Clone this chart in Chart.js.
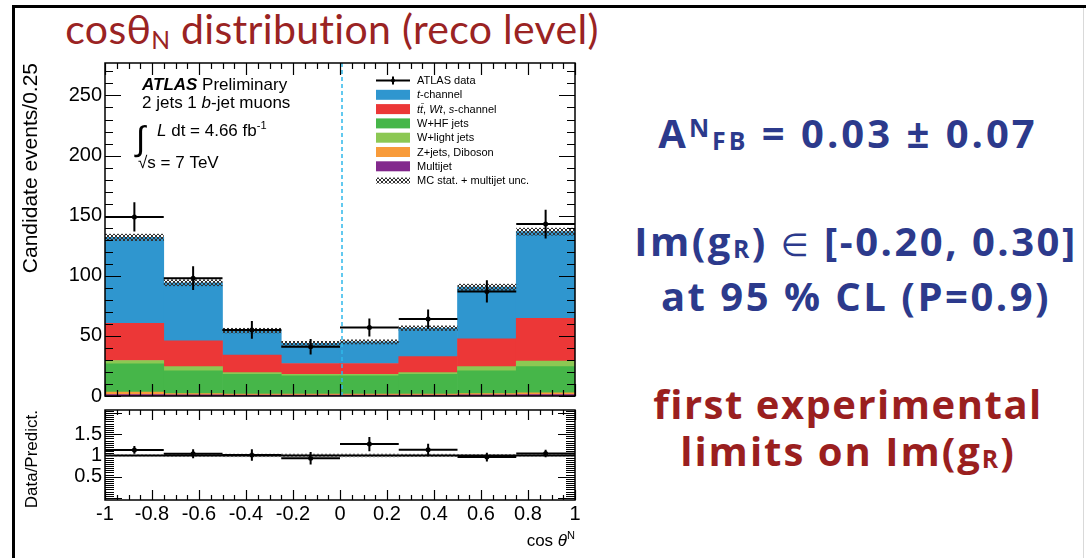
<!DOCTYPE html>
<html>
<head>
<meta charset="utf-8">
<script src="https://cdn.jsdelivr.net/npm/chart.js@4.4.1/dist/chart.umd.min.js"></script>
<style>
  html, body { margin: 0; padding: 0; background: #fff; }
  body { width: 1086px; height: 558px; position: relative; overflow: hidden; }
  canvas { position: absolute; left: 0; top: 0; }
  .frame { position: absolute; left: 12px; top: 5px; right: 0; bottom: 0; border-left: 3px solid #000; border-top: 3px solid #000; }
  .edge { position: absolute; left: 1083px; top: 8px; bottom: 0; width: 1px; background: #d9d9d9; }
  .title { position: absolute; left: 32px; top: 8px; width: 600px; text-align: center; font-family: Lato, sans-serif; font-size: 41px; line-height: 1; letter-spacing: 0.3px; font-variant-ligatures: none; color: #9a2323; white-space: nowrap; }
  .title sub { font-size: 0.6em; line-height: 0; vertical-align: -0.2em; }
  .note { position: absolute; width: 470px; text-align: center; font-family: "Open Sans", sans-serif; font-weight: 700; font-size: 40px; line-height: 1; color: #2c3a8c; white-space: nowrap; }
  .note.red { color: #9a1f1f; }
  .note sup { font-size: 0.62em; line-height: 0; vertical-align: 0.45em; }
  .note sub { font-size: 0.62em; line-height: 0; vertical-align: -0.08em; }
  .in { font-weight: 400; font-family: "DejaVu Sans", sans-serif; font-size: 0.8em; }
</style>
</head>
<body>
<div class="frame"></div>
<div class="edge"></div>
<div class="title">cosθ<sub>N</sub> distribution (reco level)</div>
<div class="note" style="top:113px; left:613px; letter-spacing:3px">A<sup>N</sup><sub>FB</sub> = 0.03 ± 0.07</div>
<div class="note" style="top:221px; left:621px; letter-spacing:2.5px">Im(g<sub>R</sub>) <span class="in">∈</span> [-0.20, 0.30]</div>
<div class="note" style="top:276px; left:621px; letter-spacing:2.5px">at 95 % CL (P=0.9)</div>
<div class="note red" style="top:384px; left:613px; letter-spacing:1.5px">first experimental</div>
<div class="note red" style="top:431px; left:613px; letter-spacing:2px">limits on Im(g<sub>R</sub>)</div>
<canvas id="main" width="1086" height="558"></canvas>
<canvas id="ratio" width="1086" height="558"></canvas>
<script>
// cos theta_N binning
const binEdges = [-1, -0.75, -0.5, -0.25, 0, 0.25, 0.5, 0.75, 1];
const binCenters = [-0.875, -0.625, -0.375, -0.125, 0.125, 0.375, 0.625, 0.875];

// observed events per bin
const dataCounts = [149, 98, 55, 41, 57, 64, 87, 143];

// predicted events per process (stacked bottom to top)
const multijet = [1.2, 1.0, 0.8, 0.8, 0.8, 0.8, 1.0, 1.2];
const zjetsDiboson = [2.0, 1.0, 0.8, 0.7, 0.7, 0.8, 1.0, 1.5];
const wHF = [23.5, 19.0, 16.4, 15.2, 15.2, 16.4, 19.0, 21.7];
const wLight = [2.8, 3.4, 1.4, 1.3, 1.3, 1.4, 3.4, 4.6];
const ttbarWtS = [31.0, 21.4, 14.6, 9.0, 9.0, 13.4, 23.1, 35.7];
const tChannel = [71.4, 48.4, 20.4, 16.9, 18.0, 23.6, 43.0, 72.0];
// MC stat. + multijet uncertainty
const mcUnc = [3.0, 2.8, 2.2, 1.9, 2.0, 2.2, 2.8, 3.2];

// tick labels
const mainYTicks = [0, 50, 100, 150, 200, 250];
const ratioYTicks = [0.5, 1, 1.5];
const xTickLabels = [-1, -0.8, -0.6, -0.4, -0.2, 0, 0.2, 0.4, 0.6, 0.8, 1];

const processes = [
  { label: 'Multijet', values: multijet, color: '#83298d' },
  { label: 'Z+jets, Diboson', values: zjetsDiboson, color: '#f89b3a' },
  { label: 'W+HF jets', values: wHF, color: '#46b649' },
  { label: 'W+light jets', values: wLight, color: '#8cc853' },
  { label: 'tt, Wt, s-channel', values: ttbarWtS, color: '#ec3737' },
  { label: 't-channel', values: tChannel, color: '#2f96cf' }
];

const mcTotal = binCenters.map((_, i) => processes.reduce((s, p) => s + p.values[i], 0));
const ratio = dataCounts.map((n, i) => n / mcTotal[i]);
const ratioErr = dataCounts.map((n, i) => Math.sqrt(n) / mcTotal[i]);

const FONT = '"Liberation Sans", Arial, Helvetica, sans-serif';

function hatch(ctx, color) {
  const c = document.createElement('canvas');
  c.width = 4; c.height = 4;
  const g = c.getContext('2d');
  g.strokeStyle = color;
  g.lineWidth = 1;
  g.beginPath();
  g.moveTo(0, 4); g.lineTo(4, 0);
  g.moveTo(0, 0); g.lineTo(4, 4);
  g.stroke();
  return ctx.createPattern(c, 'repeat');
}

function steps(min, max, step) {
  const out = [];
  for (let i = 0; ; i++) {
    const v = min + i * step;
    if (v > max + 1e-9) break;
    out.push(v);
  }
  return out;
}

const fmt = v => String(Math.round(v * 10) / 10);

// ROOT style frame with inward ticks on all four sides
function rootFrame(chart, s) {
  const { ctx, chartArea: a, scales: { x, y } } = chart;
  ctx.save();
  ctx.strokeStyle = '#000';
  ctx.lineWidth = 1.2;
  ctx.beginPath();
  steps(-1, 1, s.xMinor).forEach(v => {
    const px = Math.round(x.getPixelForValue(v)) + 0.5;
    const k = (v + 1) / s.xMajor;
    const len = Math.abs(k - Math.round(k)) < 1e-6 ? s.xMajorLen : s.xMinorLen;
    ctx.moveTo(px, a.bottom); ctx.lineTo(px, a.bottom - len);
    ctx.moveTo(px, a.top); ctx.lineTo(px, a.top + len);
  });
  steps(s.yStart, y.max, s.yMinor).forEach(v => {
    if (v < y.min) return;
    const py = Math.round(y.getPixelForValue(v)) + 0.5;
    const k = v / s.yMajor;
    const len = Math.abs(k - Math.round(k)) < 1e-6 ? s.yMajorLen : s.yMinorLen;
    ctx.moveTo(a.left, py); ctx.lineTo(a.left + len, py);
    ctx.moveTo(a.right, py); ctx.lineTo(a.right - len, py);
  });
  ctx.stroke();
  ctx.lineWidth = 1.5;
  ctx.strokeRect(a.left, a.top, a.width, a.height);
  ctx.restore();
}

function errorBars(chart, vals, errs, width) {
  const { ctx, scales: { x, y } } = chart;
  ctx.save();
  ctx.strokeStyle = '#000';
  ctx.lineWidth = width;
  ctx.beginPath();
  vals.forEach((v, i) => {
    const py = y.getPixelForValue(v);
    ctx.moveTo(x.getPixelForValue(binEdges[i]), py);
    ctx.lineTo(x.getPixelForValue(binEdges[i + 1]), py);
    const xc = x.getPixelForValue(binCenters[i]);
    ctx.moveTo(xc, y.getPixelForValue(v + errs[i]));
    ctx.lineTo(xc, y.getPixelForValue(v - errs[i]));
  });
  ctx.stroke();
  ctx.restore();
}

// text made of plain / italic pieces
function richText(ctx, x, y, parts, size) {
  parts.forEach(p => {
    const sz = p.sup ? size * 0.65 : size;
    ctx.font = (p.bold ? 'bold ' : '') + (p.it ? 'italic ' : '') + sz + 'px ' + FONT;
    ctx.fillText(p.t, x, p.sup ? y - size * 0.4 : y);
    x += ctx.measureText(p.t).width;
  });
  return x;
}

const legendRows = [
  { kind: 'data', parts: [{ t: 'ATLAS data' }] },
  { color: '#2f96cf', parts: [{ t: 't', it: true }, { t: '-channel' }] },
  { color: '#ec3737', parts: [{ t: 'tt\u0304', it: true }, { t: ', ' }, { t: 'Wt', it: true }, { t: ', ' }, { t: 's', it: true }, { t: '-channel' }] },
  { color: '#46b649', parts: [{ t: 'W+HF jets' }] },
  { color: '#8cc853', parts: [{ t: 'W+light jets' }] },
  { color: '#f89b3a', parts: [{ t: 'Z+jets, Diboson' }] },
  { color: '#83298d', parts: [{ t: 'Multijet' }] },
  { kind: 'band', parts: [{ t: 'MC stat. + multijet unc.' }] }
];

const mainDecor = {
  id: 'mainDecor',
  afterDatasetsDraw(chart) {
    const { ctx, chartArea: a, scales: { x, y } } = chart;
    ctx.save();
    // uncertainty band on the total prediction
    ctx.fillStyle = hatch(ctx, '#333');
    mcTotal.forEach((t, i) => {
      const x0 = x.getPixelForValue(binEdges[i]);
      const x1 = x.getPixelForValue(binEdges[i + 1]);
      const y0 = y.getPixelForValue(t + mcUnc[i]);
      const y1 = y.getPixelForValue(t - mcUnc[i]);
      ctx.fillRect(x0, y0, x1 - x0, y1 - y0);
    });
    // dashed marker at cos = 0
    ctx.strokeStyle = '#2fb8ea';
    ctx.lineWidth = 1.5;
    ctx.setLineDash([4, 3]);
    ctx.beginPath();
    const x0 = x.getPixelForValue(0) + 2;
    ctx.moveTo(x0, a.top);
    ctx.lineTo(x0, a.bottom);
    ctx.stroke();
    ctx.restore();
    errorBars(chart, dataCounts, dataCounts.map(Math.sqrt), 2);
  },
  afterDraw(chart) {
    const { ctx } = chart;
    rootFrame(chart, {
      xMinor: 0.05, xMajor: 0.2, xMajorLen: 12, xMinorLen: 6,
      yStart: 0, yMinor: 10, yMajor: 50, yMajorLen: 16, yMinorLen: 8
    });

    // legend
    ctx.save();
    ctx.fillStyle = '#000';
    ctx.textBaseline = 'middle';
    const band = hatch(ctx, '#333');
    legendRows.forEach((r, i) => {
      const cy = 80.5 + i * 14.3;
      if (r.kind === 'data') {
        ctx.strokeStyle = '#000';
        ctx.lineWidth = 2;
        ctx.beginPath();
        ctx.moveTo(376, cy); ctx.lineTo(410, cy);
        ctx.moveTo(393, cy - 4); ctx.lineTo(393, cy + 4);
        ctx.stroke();
        ctx.beginPath();
        ctx.arc(393, cy, 2, 0, Math.PI * 2);
        ctx.fill();
      } else if (r.kind === 'band') {
        ctx.fillStyle = band;
        ctx.fillRect(376, cy - 3, 34, 6);
        ctx.fillStyle = '#000';
      } else {
        ctx.fillStyle = r.color;
        ctx.fillRect(376, cy - 5, 34, 10);
        ctx.fillStyle = '#000';
      }
      richText(ctx, 417, cy + 0.5, r.parts, 11);
    });

    // ATLAS label block
    ctx.textBaseline = 'alphabetic';
    richText(ctx, 142, 90, [{ t: 'ATLAS', it: true, bold: true }, { t: ' Preliminary' }], 17);
    richText(ctx, 142, 108, [{ t: '2 jets 1 ' }, { t: 'b', it: true }, { t: '-jet muons' }], 17);
    ctx.font = '34px ' + FONT;
    ctx.fillText('\u222B', 136, 150);
    richText(ctx, 157, 136, [{ t: 'L', it: true }, { t: ' dt = 4.66 fb' }, { t: '-1', sup: true }], 17);
    ctx.font = '17px ' + FONT;
    ctx.fillText('\u221As = 7 TeV', 138, 168);
    ctx.restore();
  }
};

const ratioDecor = {
  id: 'ratioDecor',
  afterDatasetsDraw(chart) {
    const { ctx, chartArea: a, scales: { x, y } } = chart;
    ctx.save();
    ctx.fillStyle = hatch(ctx, '#9a9a9a');
    mcTotal.forEach((t, i) => {
      const x0 = x.getPixelForValue(binEdges[i]);
      const x1 = x.getPixelForValue(binEdges[i + 1]);
      const u = mcUnc[i] / t;
      ctx.fillRect(x0, y.getPixelForValue(1 + u), x1 - x0, y.getPixelForValue(1 - u) - y.getPixelForValue(1 + u));
    });
    ctx.strokeStyle = '#000';
    ctx.lineWidth = 2;
    ctx.beginPath();
    ctx.moveTo(a.left, y.getPixelForValue(1));
    ctx.lineTo(a.right, y.getPixelForValue(1));
    ctx.stroke();
    ctx.restore();
    errorBars(chart, ratio, ratioErr, 2);
  },
  afterDraw(chart) {
    const { ctx, chartArea: a } = chart;
    rootFrame(chart, {
      xMinor: 0.05, xMajor: 0.2, xMajorLen: 10, xMinorLen: 5,
      yStart: 0, yMinor: 0.05, yMajor: 0.5, yMajorLen: 17, yMinorLen: 9
    });
    // axis title cos theta^N
    ctx.save();
    ctx.fillStyle = '#000';
    ctx.textBaseline = 'alphabetic';
    const parts = [{ t: 'cos ' }, { t: '\u03B8', it: true }, { t: 'N', sup: true }];
    let w = 0;
    parts.forEach(p => {
      ctx.font = (p.it ? 'italic ' : '') + (p.sup ? 11 : 17) + 'px ' + FONT;
      w += ctx.measureText(p.t).width;
    });
    richText(ctx, a.right - w, 546, parts, 17);
    ctx.restore();
  }
};

const tickFont = { family: FONT, size: 20 };

new Chart(document.getElementById('main'), {
  type: 'bar',
  data: {
    datasets: [
      {
        type: 'line',
        label: 'ATLAS data',
        data: binCenters.map((c, i) => ({ x: c, y: dataCounts[i] })),
        showLine: false,
        pointRadius: 2.5,
        pointBackgroundColor: '#000',
        pointBorderWidth: 0,
        stack: 'data',
        order: -1
      },
      ...processes.map(p => ({
        label: p.label,
        data: binCenters.map((c, i) => ({ x: c, y: p.values[i] })),
        backgroundColor: p.color,
        borderWidth: 0,
        barPercentage: 1,
        categoryPercentage: 1,
        stack: 'mc'
      }))
    ]
  },
  options: {
    responsive: false,
    animation: false,
    events: [],
    layout: { padding: { left: 0, top: 63, right: 511, bottom: 162 } },
    plugins: { legend: { display: false }, tooltip: { enabled: false } },
    scales: {
      x: {
        type: 'linear', min: -1, max: 1, offset: false, stacked: true, display: false,
        afterBuildTicks: s => { s.ticks = binEdges.map(v => ({ value: v })); }
      },
      y: {
        type: 'linear', min: 0, max: 277, stacked: true,
        afterFit: s => { s.width = 105; },
        afterBuildTicks: s => { s.ticks = mainYTicks.map(v => ({ value: v })); },
        grid: { display: false, drawTicks: false },
        border: { display: false },
        ticks: { color: '#000', font: tickFont, padding: 3 },
        title: {
          display: true, text: 'Candidate events/0.25', align: 'end', color: '#000',
          font: { family: FONT, size: 21 }, padding: { top: 19, bottom: 0 }
        }
      }
    }
  },
  plugins: [mainDecor]
});

new Chart(document.getElementById('ratio'), {
  type: 'line',
  data: {
    datasets: [{
      label: 'Data/Prediction',
      data: binCenters.map((c, i) => ({ x: c, y: ratio[i] })),
      showLine: false,
      pointRadius: 2.5,
      pointBackgroundColor: '#000',
      pointBorderWidth: 0
    }]
  },
  options: {
    responsive: false,
    animation: false,
    events: [],
    layout: { padding: { left: 0, top: 410, right: 511, bottom: 0 } },
    plugins: { legend: { display: false }, tooltip: { enabled: false } },
    scales: {
      x: {
        type: 'linear', min: -1, max: 1,
        afterFit: s => { s.height = 58; },
        afterBuildTicks: s => { s.ticks = xTickLabels.map(v => ({ value: v })); },
        grid: { display: false, drawTicks: false },
        border: { display: false },
        ticks: { color: '#000', font: tickFont, padding: 2, maxRotation: 0, autoSkip: false, callback: fmt }
      },
      y: {
        type: 'linear', min: -0.05, max: 2.07,
        afterFit: s => { s.width = 105; },
        afterBuildTicks: s => { s.ticks = ratioYTicks.map(v => ({ value: v })); },
        grid: { display: false, drawTicks: false },
        border: { display: false },
        ticks: { color: '#000', font: tickFont, padding: 3, callback: fmt },
        title: {
          display: true, text: 'Data/Predict.', align: 'end', color: '#000',
          font: { family: FONT, size: 17 }, padding: { top: 22, bottom: 0 }
        }
      }
    }
  },
  plugins: [ratioDecor]
});
</script>
</body>
</html>
